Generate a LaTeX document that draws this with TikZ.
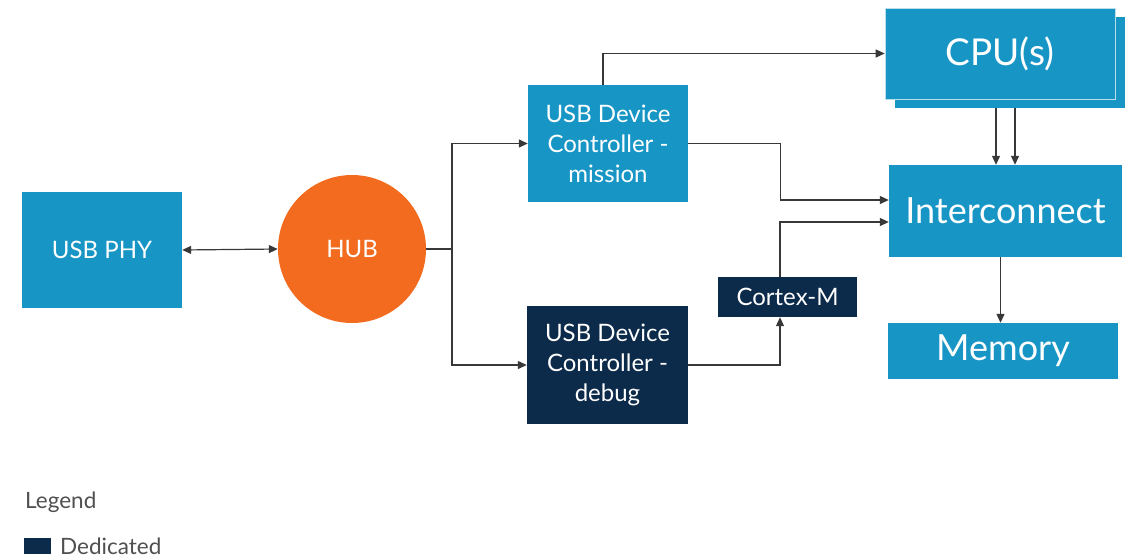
\documentclass[tikz,border=0pt]{standalone}
\usepackage{fontspec}
\setmainfont{Lato}
\usetikzlibrary{arrows.meta,positioning}
\definecolor{armblue}{HTML}{1796C6}
\definecolor{armnavy}{HTML}{0C2A4A}
\definecolor{huborange}{HTML}{F26B1F}
\definecolor{wire}{HTML}{383838}
\definecolor{legendgray}{HTML}{505050}
\tikzset{
  blockbox/.style={fill=armblue, text=white, inner sep=0pt, align=center},
  navybox/.style={fill=armnavy, text=white, inner sep=0pt, align=center},
  wirearrow/.style={draw=wire, line width=1.2pt, -{Triangle[length=9pt,width=8pt]}},
  bothwire/.style={draw=wire, line width=1.2pt, {Triangle[length=9pt,width=8pt]}-{Triangle[length=9pt,width=8pt]}},
  plainwire/.style={draw=wire, line width=1.2pt},
  midtext/.style={font=\fontsize{24}{30}\selectfont},
  bigtext/.style={font=\fontsize{36}{42}\selectfont},
  legendtext/.style={text=legendgray, font=\fontsize{22.5}{26}\selectfont, inner sep=0pt, anchor=base west},
}
\begin{document}
\begin{tikzpicture}[x=1pt,y=-1pt]
\useasboundingbox (0,0) rectangle (1132,557);

% blocks
\node[blockbox, midtext, minimum width=160pt, minimum height=116pt] (phy) at (102,250) {USB PHY};
\node[circle, fill=huborange, text=white, inner sep=0pt, minimum size=148pt, midtext] (hub) at (352,249) {HUB};
\node[blockbox, midtext, minimum width=160pt, minimum height=117pt] (mission) at (608,143.5) {USB Device\\Controller -\\mission};
\node[navybox, midtext, minimum width=161pt, minimum height=118pt] (debug) at (607.5,365) {USB Device\\Controller -\\debug};
\node[navybox, midtext, minimum width=139pt, minimum height=40pt] (cortex) at (787.5,297) {Cortex-M};
\node[blockbox, minimum width=230pt, minimum height=91pt] (cpus) at (1010,62.5) {};
\node[blockbox, font=\fontsize{37}{42}\selectfont, minimum width=230pt, minimum height=91pt, draw=white!70!armblue, line width=0.6pt] (cpu) at (1000,53.5) {CPU(s)};
\node[blockbox, bigtext, minimum width=233pt, minimum height=92pt] (ic) at (1005.5,211) {Interconnect};
\node[blockbox, bigtext, minimum width=230pt, minimum height=56pt] (mem) at (1003,351) {Memory};

% connectors
\coordinate (split) at (452,249);
\draw[bothwire] (phy.east) -- (hub.west);
\draw[plainwire] (hub.east) -- (split);
\draw[wirearrow] (split) |- (mission.west);
\draw[wirearrow] (split) |- (debug.west);
\draw[wirearrow] ([xshift=-5pt]mission.north) |- (cpu.west);
\draw[wirearrow] (mission.east) -- ++(92,0) |- ([yshift=11pt]ic.west);
\draw[wirearrow] ([xshift=-7.5pt]cortex.north) |- ([yshift=-11pt]ic.west);
\draw[wirearrow] (debug.east) -| ([xshift=-7.5pt]cortex.south);
\draw[wirearrow] ([xshift=-14pt]cpus.south) -- ([xshift=-14pt]cpus.south |- ic.north);
\draw[wirearrow] ([xshift=5pt]cpus.south) -- ([xshift=5pt]cpus.south |- ic.north);
\draw[wirearrow] ([xshift=-5pt]ic.south) -- ([xshift=-5pt]ic.south |- mem.north);

% legend
\node[legendtext] (legend) at (25,508) {Legend};
\node[fill=armnavy, minimum width=27pt, minimum height=16pt, inner sep=0pt] (key) at (37.5,546) {};
\node[legendtext] (keytext) at (60,554) {Dedicated};
\end{tikzpicture}
\end{document}
